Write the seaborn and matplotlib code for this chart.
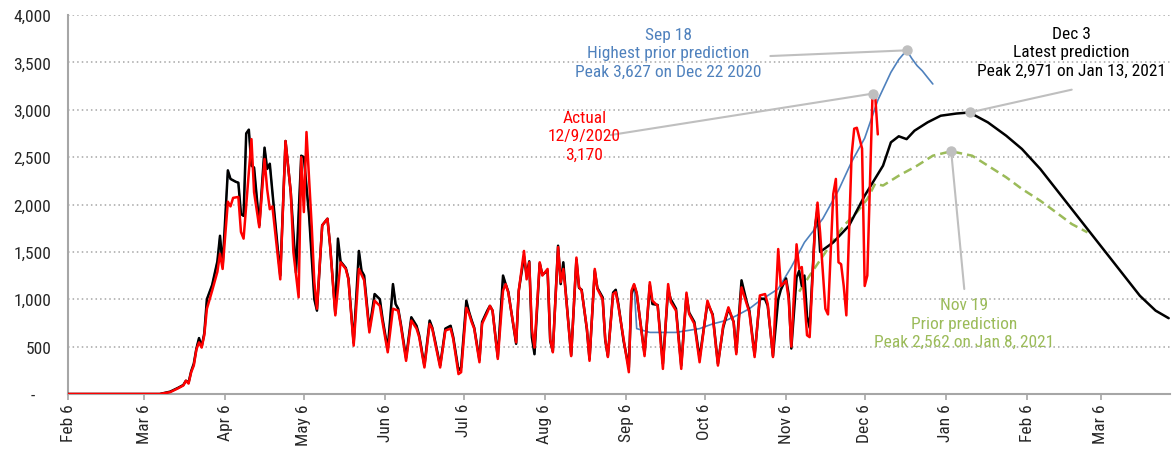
import matplotlib
matplotlib.use("Agg")
import matplotlib.pyplot as plt
import matplotlib.dates as mdates
from matplotlib import font_manager
from matplotlib.ticker import FuncFormatter, MultipleLocator
import seaborn as sns
import pandas as pd
import numpy as np

# Actual reported daily deaths (red)
actual_dates = [
    "2020-02-06", "2020-03-12", "2020-03-16", "2020-03-19", "2020-03-21", "2020-03-22", "2020-03-23",
    "2020-03-24", "2020-03-25", "2020-03-26", "2020-03-27", "2020-03-28", "2020-03-29", "2020-03-30",
    "2020-04-01", "2020-04-03", "2020-04-04", "2020-04-05", "2020-04-07", "2020-04-08", "2020-04-09",
    "2020-04-11", "2020-04-12", "2020-04-13", "2020-04-16", "2020-04-17", "2020-04-19", "2020-04-21",
    "2020-04-22", "2020-04-23", "2020-04-24", "2020-04-27", "2020-04-29", "2020-05-01", "2020-05-02",
    "2020-05-04", "2020-05-05", "2020-05-06", "2020-05-07", "2020-05-09", "2020-05-10", "2020-05-11",
    "2020-05-13", "2020-05-15", "2020-05-16", "2020-05-18", "2020-05-20", "2020-05-22", "2020-05-23",
    "2020-05-25", "2020-05-27", "2020-05-29", "2020-05-31", "2020-06-02", "2020-06-04", "2020-06-05",
    "2020-06-07", "2020-06-09", "2020-06-11", "2020-06-12", "2020-06-14", "2020-06-16", "2020-06-18",
    "2020-06-19", "2020-06-21", "2020-06-23", "2020-06-24", "2020-06-25", "2020-06-27", "2020-06-29",
    "2020-07-01", "2020-07-02", "2020-07-04", "2020-07-05", "2020-07-07", "2020-07-08", "2020-07-09",
    "2020-07-10", "2020-07-12", "2020-07-13", "2020-07-15", "2020-07-16", "2020-07-17", "2020-07-19",
    "2020-07-21", "2020-07-22", "2020-07-23", "2020-07-26", "2020-07-27", "2020-07-29", "2020-07-30",
    "2020-07-31", "2020-08-01", "2020-08-02", "2020-08-04", "2020-08-05", "2020-08-07", "2020-08-08",
    "2020-08-09", "2020-08-11", "2020-08-12", "2020-08-13", "2020-08-14", "2020-08-16", "2020-08-18",
    "2020-08-19", "2020-08-20", "2020-08-22", "2020-08-23", "2020-08-25", "2020-08-26", "2020-08-28",
    "2020-08-29", "2020-08-30", "2020-09-01", "2020-09-02", "2020-09-03", "2020-09-05", "2020-09-07",
    "2020-09-08", "2020-09-09", "2020-09-10", "2020-09-13", "2020-09-15", "2020-09-16", "2020-09-18",
    "2020-09-20", "2020-09-22", "2020-09-23", "2020-09-25", "2020-09-27", "2020-09-29", "2020-09-30",
    "2020-10-02", "2020-10-04", "2020-10-07", "2020-10-09", "2020-10-11", "2020-10-13", "2020-10-15",
    "2020-10-17", "2020-10-18", "2020-10-20", "2020-10-22", "2020-10-23", "2020-10-25", "2020-10-27",
    "2020-10-29", "2020-10-30", "2020-11-01", "2020-11-03", "2020-11-04", "2020-11-06", "2020-11-07",
    "2020-11-08", "2020-11-10", "2020-11-11", "2020-11-12", "2020-11-13", "2020-11-14", "2020-11-15",
    "2020-11-17", "2020-11-18", "2020-11-19", "2020-11-21", "2020-11-22", "2020-11-24", "2020-11-25",
    "2020-11-26", "2020-11-27", "2020-11-28", "2020-11-29", "2020-12-01", "2020-12-02", "2020-12-03",
    "2020-12-04", "2020-12-05", "2020-12-06", "2020-12-07", "2020-12-08", "2020-12-09", "2020-12-10",
    "2020-12-11",
]
actual_vals = [
    0, 0, 20, 60, 90, 140, 110,
    230, 300, 470, 545, 490, 620, 900,
    1090, 1290, 1480, 1320, 2030, 1980, 2070,
    2080, 1710, 1640, 2690, 2130, 1760, 2480,
    2160, 1950, 1980, 1210, 2670, 2130, 1500,
    1020, 2500, 1920, 2765, 1770, 1180, 900,
    1780, 1850, 1570, 830, 1390, 1320, 1210,
    510, 1320, 1200, 650, 985, 930, 760,
    440, 900, 880, 720, 350, 775, 690,
    600, 280, 740, 690, 550, 280, 670,
    690, 580, 210, 230, 910, 850, 760,
    690, 335, 740, 860, 930, 880, 370,
    1090, 1160, 1070, 545, 1090, 1510, 1210,
    1390, 690, 490, 1390, 1250, 1320, 580,
    440, 1550, 1180, 1320, 1040, 400, 1440,
    1130, 1090, 690, 350, 1320, 1110, 1000,
    580, 390, 1055, 1075, 930, 580, 230,
    1090, 1160, 1070, 400, 1180, 985, 930,
    265, 1160, 970, 880, 265, 1070, 845,
    740, 335, 985, 826, 300, 720, 915,
    757, 420, 1125, 950, 860, 390, 1040,
    1055, 950, 390, 1530, 1140, 1195, 1000,
    500, 1580, 1320, 1340, 1000, 620, 600,
    1740, 2020, 1700, 900, 840, 2110, 2270,
    1390, 1370, 1140, 830, 2520, 2800, 2810,
    2700, 2590, 1140, 1250, 2200, 3170, 3150,
    2740,
]

# Dec 3 model: history as used by the model (black)
history_dates = [
    "2020-02-06", "2020-03-12", "2020-03-16", "2020-03-19", "2020-03-21", "2020-03-22", "2020-03-23",
    "2020-03-24", "2020-03-25", "2020-03-26", "2020-03-27", "2020-03-28", "2020-03-29", "2020-03-30",
    "2020-04-01", "2020-04-03", "2020-04-04", "2020-04-05", "2020-04-07", "2020-04-08", "2020-04-10",
    "2020-04-11", "2020-04-12", "2020-04-13", "2020-04-14", "2020-04-15", "2020-04-16", "2020-04-17",
    "2020-04-19", "2020-04-21", "2020-04-22", "2020-04-23", "2020-04-24", "2020-04-27", "2020-04-29",
    "2020-05-01", "2020-05-03", "2020-05-05", "2020-05-06", "2020-05-08", "2020-05-10", "2020-05-11",
    "2020-05-13", "2020-05-15", "2020-05-16", "2020-05-18", "2020-05-19", "2020-05-20", "2020-05-22",
    "2020-05-23", "2020-05-25", "2020-05-27", "2020-05-28", "2020-05-29", "2020-05-31", "2020-06-02",
    "2020-06-04", "2020-06-05", "2020-06-07", "2020-06-09", "2020-06-10", "2020-06-11", "2020-06-12",
    "2020-06-14", "2020-06-16", "2020-06-18", "2020-06-19", "2020-06-21", "2020-06-23", "2020-06-24",
    "2020-06-25", "2020-06-27", "2020-06-29", "2020-07-01", "2020-07-02", "2020-07-04", "2020-07-05",
    "2020-07-07", "2020-07-08", "2020-07-09", "2020-07-10", "2020-07-12", "2020-07-13", "2020-07-15",
    "2020-07-16", "2020-07-17", "2020-07-19", "2020-07-21", "2020-07-22", "2020-07-23", "2020-07-26",
    "2020-07-27", "2020-07-29", "2020-07-30", "2020-07-31", "2020-08-01", "2020-08-02", "2020-08-04",
    "2020-08-05", "2020-08-07", "2020-08-08", "2020-08-09", "2020-08-11", "2020-08-12", "2020-08-13",
    "2020-08-14", "2020-08-16", "2020-08-18", "2020-08-19", "2020-08-20", "2020-08-22", "2020-08-23",
    "2020-08-25", "2020-08-26", "2020-08-28", "2020-08-29", "2020-08-30", "2020-09-01", "2020-09-02",
    "2020-09-03", "2020-09-05", "2020-09-07", "2020-09-08", "2020-09-09", "2020-09-10", "2020-09-13",
    "2020-09-15", "2020-09-16", "2020-09-18", "2020-09-20", "2020-09-22", "2020-09-23", "2020-09-25",
    "2020-09-27", "2020-09-29", "2020-09-30", "2020-10-02", "2020-10-04", "2020-10-07", "2020-10-09",
    "2020-10-11", "2020-10-13", "2020-10-15", "2020-10-17", "2020-10-18", "2020-10-20", "2020-10-22",
    "2020-10-23", "2020-10-25", "2020-10-27", "2020-10-29", "2020-10-30", "2020-11-01", "2020-11-03",
    "2020-11-04", "2020-11-06", "2020-11-07", "2020-11-08", "2020-11-10", "2020-11-11", "2020-11-12",
    "2020-11-13", "2020-11-14", "2020-11-15", "2020-11-17", "2020-11-18",
]
history_vals = [
    0, 0, 25, 65, 95, 140, 120,
    240, 320, 480, 590, 500, 640, 1000,
    1150, 1400, 1670, 1350, 2360, 2270, 2240,
    2230, 1900, 1880, 2750, 2790, 2410, 2390,
    1780, 2600, 2375, 2430, 2130, 1250, 2670,
    2130, 1280, 2515, 2500, 1880, 1000, 880,
    1780, 1850, 1570, 850, 1640, 1400, 1330,
    1220, 540, 1510, 1300, 1250, 680, 1055,
    1000, 800, 470, 1160, 950, 900, 740,
    380, 810, 720, 620, 300, 775, 700,
    570, 300, 690, 720, 600, 250, 280,
    985, 870, 780, 700, 360, 760, 880,
    930, 880, 390, 1250, 1160, 1080, 530,
    1090, 1450, 1250, 1400, 600, 420, 1380,
    1260, 1300, 560, 450, 1565, 1160, 1390,
    1050, 410, 1420, 1120, 1100, 680, 370,
    1300, 1120, 1020, 570, 400, 1070, 1100,
    950, 560, 280, 1050, 1150, 1060, 420,
    1150, 950, 940, 320, 1100, 1000, 900,
    300, 1050, 860, 760, 380, 960, 840,
    320, 700, 900, 760, 440, 1200, 970,
    880, 410, 1010, 1000, 930, 400, 1000,
    1100, 1220, 1050, 480, 1230, 1300, 1140,
    1250, 820, 700, 1750, 1950,
]

# Dec 3 model projection (black)
dec3_dates = [
    "2020-11-19", "2020-11-24", "2020-11-30", "2020-12-06", "2020-12-13", "2020-12-16", "2020-12-19",
    "2020-12-22", "2020-12-25", "2020-12-30", "2021-01-04", "2021-01-10", "2021-01-15", "2021-01-22",
    "2021-01-29", "2021-02-04", "2021-02-11", "2021-02-17", "2021-02-23", "2021-03-02", "2021-03-08",
    "2021-03-15", "2021-03-21", "2021-03-27", "2021-04-01",
]
dec3_vals = [
    1500, 1600, 1776, 2093, 2410, 2656, 2720,
    2690, 2779, 2867, 2937, 2960, 2971, 2867,
    2726, 2586, 2375, 2164, 1953, 1706, 1495,
    1249, 1037, 880, 800,
]

# Sep 18 model projection (blue), history up to Sep 9
sep18_last_hist = "2020-09-09"
sep18_dates = [
    "2020-09-10", "2020-09-15", "2020-09-25", "2020-10-04", "2020-10-09", "2020-10-14", "2020-10-18",
    "2020-10-23", "2020-10-27", "2020-11-03", "2020-11-08", "2020-11-13", "2020-11-20", "2020-11-26",
    "2020-12-01", "2020-12-06", "2020-12-11", "2020-12-16", "2020-12-19", "2020-12-22", "2020-12-24",
    "2020-12-26", "2020-12-28", "2020-12-30", "2021-01-01",
]
sep18_vals = [
    690, 650, 650, 690, 740, 775, 826,
    900, 985, 1110, 1340, 1600, 1850, 2150,
    2450, 2700, 3100, 3395, 3530, 3627, 3540,
    3465, 3410, 3340, 3272,
]

# Nov 19 model projection (green dashed)
nov19_dates = [
    "2020-11-11", "2020-11-15", "2020-11-21", "2020-11-28", "2020-12-03", "2020-12-07", "2020-12-10",
    "2020-12-13", "2020-12-19", "2020-12-26", "2021-01-01", "2021-01-08", "2021-01-16", "2021-01-22",
    "2021-01-29", "2021-02-04", "2021-02-11", "2021-02-17", "2021-02-23", "2021-03-01",
]
nov19_vals = [
    1080, 1250, 1495, 1776, 1918, 2058, 2220,
    2200, 2304, 2410, 2515, 2562, 2515, 2410,
    2287, 2164, 2040, 1918, 1794, 1706,
]

BLUE = "#4f81bd"
RED = "#ff0000"
GREEN = "#9bbb59"
GREY = "#bfbfbf"

sns.set_theme(style="white")

# pick a narrow sans font if one is installed
installed = font_manager.fontManager.ttflist
names = {f.name for f in installed}
narrow = [f.name for f in installed
          if f.stretch in ("condensed", "semi-condensed", "extra-condensed")
          or "Narrow" in f.name or "Condensed" in f.name]
pick = None
for cand in ["Liberation Sans Narrow", "Roboto Condensed", "Noto Sans Condensed",
             "Open Sans Condensed", "DejaVu Sans Condensed"]:
    if cand in names:
        pick = cand
        break
if pick is None and narrow:
    pick = narrow[0]
text_size = 12.5
if pick is None:
    pick = "Liberation Sans"
    text_size = 11.5
plt.rcParams["font.family"] = [pick, "DejaVu Sans"]
if pick in narrow and "Narrow" not in pick and "Condensed" not in pick:
    plt.rcParams["font.stretch"] = "condensed"

actual = pd.DataFrame({"date": pd.to_datetime(actual_dates), "deaths": actual_vals})
history = pd.DataFrame({"date": pd.to_datetime(history_dates), "deaths": history_vals})
dec3 = pd.concat([history, pd.DataFrame({"date": pd.to_datetime(dec3_dates), "deaths": dec3_vals})],
                 ignore_index=True)
sep18 = pd.concat([history[history["date"] <= sep18_last_hist],
                   pd.DataFrame({"date": pd.to_datetime(sep18_dates), "deaths": sep18_vals})],
                  ignore_index=True)
nov19 = pd.DataFrame({"date": pd.to_datetime(nov19_dates), "deaths": nov19_vals})

fig = plt.figure(figsize=(11.73, 4.56), dpi=100)
ax = fig.add_axes([68 / 1173, 1 - 395 / 456, 1102 / 1173, 379 / 456])

sns.lineplot(data=sep18, x="date", y="deaths", ax=ax, color=BLUE, linewidth=1.2, zorder=2)
sns.lineplot(data=nov19, x="date", y="deaths", ax=ax, color=GREEN, linewidth=1.8,
             linestyle=(0, (3.5, 2)), zorder=3)
sns.lineplot(data=dec3, x="date", y="deaths", ax=ax, color="black", linewidth=1.8, zorder=4)
sns.lineplot(data=actual, x="date", y="deaths", ax=ax, color=RED, linewidth=1.8, zorder=5)

ax.set_xlim(pd.Timestamp("2020-02-06"), pd.Timestamp("2021-04-01 12:00"))
ax.set_ylim(0, 4000)
ax.yaxis.set_major_locator(MultipleLocator(500))
ax.yaxis.set_major_formatter(FuncFormatter(lambda v, _: "-    " if v == 0 else f"{v:,.0f}"))
ax.xaxis.set_major_locator(mdates.MonthLocator(bymonthday=6))
ax.xaxis.set_major_formatter(mdates.DateFormatter("%b %-d"))
ax.tick_params(axis="x", rotation=90, labelsize=text_size, length=4.5, width=1.2, color="#a6a6a6",
               direction="out", pad=2, bottom=True)
ax.tick_params(axis="y", labelsize=text_size, length=0, pad=12)
ax.set_xlabel("")
ax.set_ylabel("")

ax.grid(axis="y", color="#a6a6a6", linestyle=(0, (1, 2)), linewidth=1.1)
ax.grid(axis="x", visible=False)
for side in ["top", "right"]:
    ax.spines[side].set_visible(False)
for side in ["left", "bottom"]:
    ax.spines[side].set_color("#a6a6a6")
    ax.spines[side].set_linewidth(1.5)


def callout(series, text_xy, line_start, label, color):
    peak = series.loc[series["deaths"].idxmax()]
    px, py = peak["date"], peak["deaths"]
    ax.plot([pd.Timestamp(line_start[0]), px], [line_start[1], py], color=GREY, linewidth=1.5, zorder=6)
    ax.plot([px], [py], marker="o", markersize=6.5, color=GREY, zorder=7)
    ax.text(pd.Timestamp(text_xy[0]), text_xy[1], label, color=color, ha="center", va="center",
            fontsize=text_size, linespacing=1.3, zorder=8)


callout(sep18, ("2020-09-22", 3600), ("2020-10-31", 3567),
        "Sep 18\nHighest prior prediction\nPeak 3,627 on Dec 22 2020", BLUE)
callout(actual, ("2020-08-21", 2723), ("2020-08-31", 2733),
        "Actual\n12/9/2020\n3,170", RED)
callout(dec3, ("2021-02-23", 3610), ("2021-02-23", 3212),
        "Dec 3\nLatest prediction\nPeak 2,971 on Jan 13, 2021", "black")
callout(nov19, ("2021-01-13", 749), ("2021-01-13", 1108),
        "Nov 19\nPrior prediction\nPeak 2,562 on Jan 8, 2021", GREEN)

plt.savefig("out.png", dpi=100)
plt.close()
